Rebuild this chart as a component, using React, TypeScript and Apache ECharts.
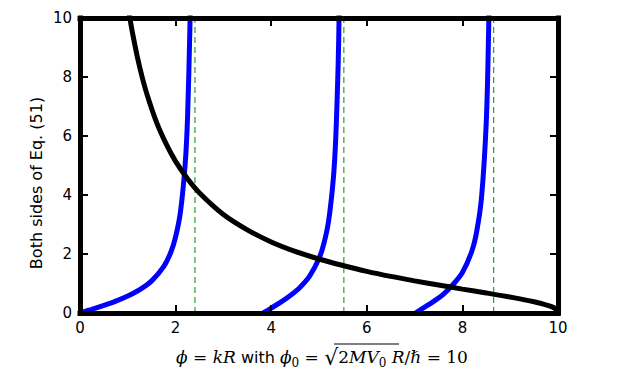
import React, { useEffect, useRef } from "react";
import * as echarts from "echarts";

// Black curve (right-hand side)
const phiBlack = [1.0, 1.04, 1.1, 1.2, 1.3, 1.4, 1.6, 1.8, 2.0, 2.25, 2.5, 3.0, 3.5, 4.0, 4.5, 5.0, 5.5, 6.0, 6.5, 7.0, 7.5, 8.0, 8.5, 9.0, 9.5, 9.8, 9.9, 9.95, 9.99, 10.0];
const rhsBlack = [10.44, 10.03, 9.48, 8.68, 8.0, 7.42, 6.47, 5.74, 5.14, 4.55, 4.07, 3.34, 2.82, 2.41, 2.09, 1.83, 1.61, 1.41, 1.24, 1.09, 0.95, 0.81, 0.68, 0.54, 0.38, 0.25, 0.19, 0.14, 0.08, 0.0];

// Blue curve branches (left-hand side)
const phiBlue1 = [0, 0.25, 0.5, 0.75, 1.0, 1.25, 1.5, 1.75, 1.9, 2.0, 2.1, 2.2, 2.25, 2.3, 2.31];
const lhsBlue1 = [0, 0.126, 0.258, 0.404, 0.575, 0.79, 1.09, 1.57, 2.06, 2.58, 3.41, 5.04, 6.63, 9.73, 10.75];
const phiBlue2 = [3.832, 4.0, 4.2, 4.4, 4.6, 4.8, 5.0, 5.1, 5.2, 5.3, 5.35, 5.4, 5.42, 5.44];
const lhsBlue2 = [0, 0.166, 0.368, 0.592, 0.867, 1.24, 1.845, 2.34, 3.11, 4.56, 5.92, 8.38, 10.06, 12.6];
const phiBlue3 = [7.016, 7.2, 7.4, 7.6, 7.8, 8.0, 8.2, 8.3, 8.4, 8.5, 8.55, 8.56];
const lhsBlue3 = [0, 0.187, 0.396, 0.63, 0.96, 1.37, 2.11, 2.77, 3.91, 6.5, 9.66, 10.7];

// Asymptotes (green dashed)
const asymptotes = [2.405, 5.52, 8.654];

const xMin = 0, xMax = 10, yMin = 0, yMax = 10, tickStep = 2;
const yLabel = "Both sides of Eq. (51)";

const pairs = (xs: number[], ys: number[]) => xs.map((x, i) => [x, ys[i]]);

export default function App() {
  const ref = useRef<HTMLDivElement>(null);
  useEffect(() => {
    if (!ref.current) return;
    const chart = echarts.init(ref.current, null, { renderer: "svg" });
    const frameLine = { show: true, onZero: false, lineStyle: { color: "#000", width: 5, cap: "square" } };
    const tick = { show: true, inside: true, length: 8, lineStyle: { color: "#000", width: 2 } };
    const labelStyle = { color: "#000", fontSize: 15, fontFamily: "DejaVu Sans" };
    const curve = (data: number[][], color: string) => ({
      type: "line",
      data,
      showSymbol: false,
      smooth: 0.35,
      clip: true,
      lineStyle: { color, width: 5 },
      z: 3,
    });
    const series: any[] = [
      curve(pairs(phiBlue1, lhsBlue1), "#0000ff"),
      curve(pairs(phiBlue2, lhsBlue2), "#0000ff"),
      curve(pairs(phiBlue3, lhsBlue3), "#0000ff"),
      curve(pairs(phiBlack, rhsBlack), "#000000"),
      ...asymptotes.map((a) => ({
        type: "line",
        data: [[a, yMin], [a, yMax]],
        showSymbol: false,
        lineStyle: { color: "#2a9a2a", width: 1.2, type: [6, 4] },
        z: 2,
      })),
    ];
    const serif = "DejaVu Serif";
    chart.setOption({
      animation: false,
      backgroundColor: "#fff",
      grid: { left: 80, right: 65, top: 18, bottom: 72 },
      xAxis: [
        {
          type: "value", min: xMin, max: xMax, interval: tickStep, position: "bottom", z: 10,
          axisLine: frameLine, axisTick: tick, splitLine: { show: false },
          axisLabel: { ...labelStyle, margin: 7 },
        },
        {
          type: "value", min: xMin, max: xMax, interval: tickStep, position: "top", z: 10,
          axisLine: frameLine, axisTick: tick, splitLine: { show: false }, axisLabel: { show: false },
        },
      ],
      yAxis: [
        {
          type: "value", min: yMin, max: yMax, interval: tickStep, position: "left", z: 10,
          axisLine: frameLine, axisTick: tick, splitLine: { show: false },
          axisLabel: { ...labelStyle, margin: 8 },
        },
        {
          type: "value", min: yMin, max: yMax, interval: tickStep, position: "right", z: 10,
          axisLine: frameLine, axisTick: tick, splitLine: { show: false }, axisLabel: { show: false },
        },
      ],
      series,
      graphic: [
        {
          type: "text",
          x: 36, y: 183, rotation: Math.PI / 2,
          style: { text: yLabel, fill: "#000", font: "16px 'DejaVu Sans'", align: "center", verticalAlign: "middle" },
        },
        {
          type: "text",
          x: 322, y: 357,
          style: {
            text: "{m|ϕ}{r| = }{m|kR}{s| with }{m|ϕ}{b|0}{r| = }{q|√}{r|2}{m|MV}{b|0}{m| R}{r|/}{m|ℏ}{r| = 10}",
            align: "center", verticalAlign: "middle", fill: "#000",
            rich: {
              m: { fontFamily: serif, fontStyle: "italic", fontSize: 17, lineHeight: 24, verticalAlign: "middle", fill: "#000" },
              r: { fontFamily: serif, fontSize: 17, lineHeight: 24, verticalAlign: "middle", fill: "#000" },
              s: { fontFamily: "DejaVu Sans", fontSize: 16, lineHeight: 24, verticalAlign: "middle", fill: "#000" },
              b: { fontFamily: serif, fontSize: 12, lineHeight: 12, verticalAlign: "bottom", fill: "#000" },
              q: { fontFamily: "DejaVu Sans", fontSize: 22, lineHeight: 24, verticalAlign: "middle", fill: "#000" },
            },
          },
        },
        {
          type: "line",
          shape: { x1: 334, y1: 344, x2: 399, y2: 344 },
          style: { stroke: "#000", lineWidth: 1 },
        },
      ],
    });
    return () => chart.dispose();
  }, []);
  return <div ref={ref} style={{ position: "fixed", left: 0, top: 0, width: 623, height: 385 }} />;
}
